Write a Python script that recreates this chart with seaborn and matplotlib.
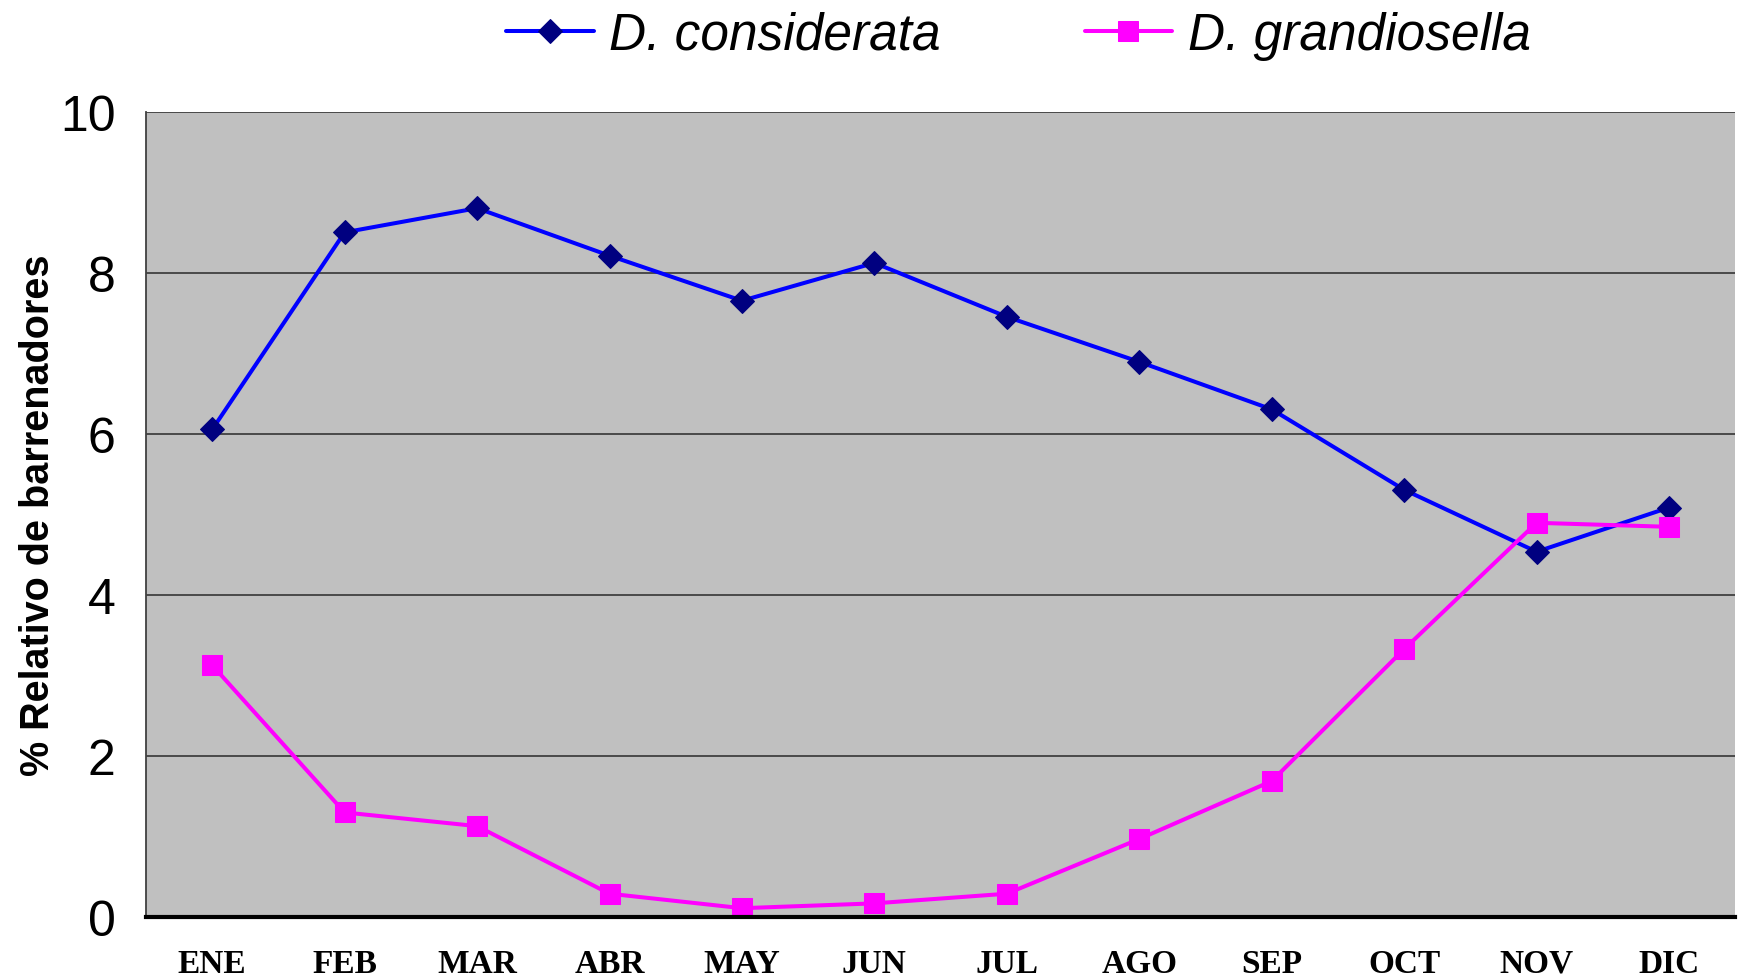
import numpy as np
import pandas as pd
import seaborn as sns
import matplotlib.pyplot as plt

# monthly relative % of borers
months = ["ENE", "FEB", "MAR", "ABR", "MAY", "JUN", "JUL", "AGO", "SEP", "OCT", "NOV", "DIC"]
considerata = [6.06, 8.51, 8.81, 8.22, 7.66, 8.13, 7.46, 6.90, 6.31, 5.31, 4.54, 5.09]
grandiosella = [3.13, 1.30, 1.13, 0.29, 0.11, 0.17, 0.29, 0.97, 1.69, 3.33, 4.90, 4.85]
yticks = [0, 2, 4, 6, 8, 10]

df = pd.DataFrame({"mes": months, "considerata": considerata, "grandiosella": grandiosella})

sns.set_style("white")
plt.rcParams["font.family"] = ["Liberation Sans", "DejaVu Sans"]
plt.rcParams["text.color"] = "black"
plt.rcParams["axes.labelcolor"] = "black"
plt.rcParams["xtick.color"] = "black"
plt.rcParams["ytick.color"] = "black"

fig = plt.figure(figsize=(17.44, 9.78), dpi=100)
ax = fig.add_axes([0.0837, 0.0613, 0.9113, 0.8227])
ax.set_facecolor("#C0C0C0")

sns.lineplot(data=df, x="mes", y="considerata", ax=ax, color="#0000FF", linewidth=2.9,
             marker="D", markersize=12.5, markerfacecolor="#000080",
             markeredgecolor="#000080", sort=False, label="D. considerata")
sns.lineplot(data=df, x="mes", y="grandiosella", ax=ax, color="#FF00FF", linewidth=2.9,
             marker="s", markersize=15, markerfacecolor="#FF00FF",
             markeredgecolor="#FF00FF", sort=False, label="D. grandiosella")

ax.set_xlim(-0.5, len(months) - 0.5)
ax.set_ylim(0, 10)
ax.set_yticks(yticks)
ax.set_yticklabels([str(v) for v in yticks], fontsize=36)
ax.yaxis.grid(True, color="#404040", linewidth=1.3)
ax.set_axisbelow(True)

# month ticks sit between the categories, labels centred on them
ax.set_xticks(np.arange(-0.5, len(months)), labels=[""] * (len(months) + 1))
ax.set_xticks(range(len(months)), labels=months, minor=True)
ax.tick_params(axis="x", which="major", length=16, width=2.5, color="black", direction="out")
ax.tick_params(axis="x", which="minor", length=0, pad=22)
ax.tick_params(axis="y", length=16, width=1.3, color="#404040", labelcolor="black", pad=6)
for lab in ax.get_xticklabels(minor=True):
    lab.set_fontfamily("Liberation Serif")
    lab.set_fontweight("bold")
    lab.set_fontsize(24)

for s in ["top", "right"]:
    ax.spines[s].set_visible(False)
ax.spines["left"].set_color("#404040")
ax.spines["left"].set_linewidth(1.3)
ax.spines["bottom"].set_color("black")
ax.spines["bottom"].set_linewidth(3)

ax.set_xlabel("")
ax.set_ylabel("% Relativo de barrenadores", fontsize=28.5, fontweight="bold", labelpad=2)

ax.legend(loc="center", bbox_to_anchor=(0.584, 0.963), bbox_transform=fig.transFigure,
          ncol=2, frameon=False, prop={"style": "italic", "size": 37},
          handlelength=1.7, columnspacing=2.8, handletextpad=0.3)

fig.savefig("out.png", dpi=100)
